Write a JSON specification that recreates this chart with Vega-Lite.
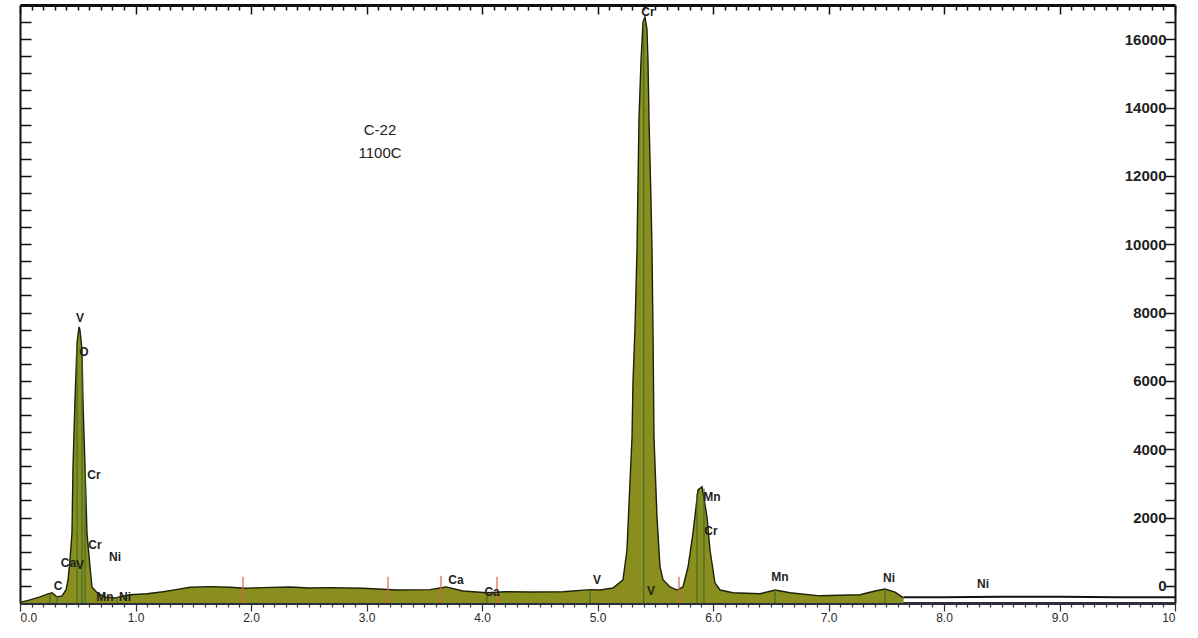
{
  "$schema": "https://vega.github.io/schema/vega-lite/v6.json",
  "width": 1155,
  "height": 598,
  "autosize": "none",
  "padding": {"left": 20, "top": 5, "right": 23, "bottom": 35},
  "background": "white",
  "config": {
    "view": {"stroke": null},
    "font": "Liberation Sans"
  },
  "datasets": {
    "spectrum": [
      {"energy": 0.000, "counts": -480},
      {"energy": 0.087, "counts": -410},
      {"energy": 0.173, "counts": -322},
      {"energy": 0.242, "counts": -234},
      {"energy": 0.277, "counts": -200},
      {"energy": 0.320, "counts": -320},
      {"energy": 0.364, "counts": -290},
      {"energy": 0.398, "counts": -120},
      {"energy": 0.416, "counts": 180},
      {"energy": 0.433, "counts": 760},
      {"energy": 0.450, "counts": 1550},
      {"energy": 0.459, "counts": 3480},
      {"energy": 0.476, "counts": 5440},
      {"energy": 0.494, "counts": 7110},
      {"energy": 0.511, "counts": 7580},
      {"energy": 0.519, "counts": 7490},
      {"energy": 0.537, "counts": 6910},
      {"energy": 0.545, "counts": 5440},
      {"energy": 0.563, "counts": 3480},
      {"energy": 0.580, "counts": 1550},
      {"energy": 0.606, "counts": 560},
      {"energy": 0.623, "counts": -30},
      {"energy": 0.667, "counts": -200},
      {"energy": 0.736, "counts": -320},
      {"energy": 0.823, "counts": -350},
      {"energy": 0.952, "counts": -260},
      {"energy": 1.100, "counts": -230},
      {"energy": 1.238, "counts": -170},
      {"energy": 1.350, "counts": -110},
      {"energy": 1.472, "counts": -40},
      {"energy": 1.650, "counts": -20},
      {"energy": 1.818, "counts": -40},
      {"energy": 1.950, "counts": -70},
      {"energy": 2.104, "counts": -50},
      {"energy": 2.338, "counts": -30},
      {"energy": 2.500, "counts": -60},
      {"energy": 2.684, "counts": -50},
      {"energy": 2.970, "counts": -70},
      {"energy": 3.264, "counts": -120},
      {"energy": 3.550, "counts": -110},
      {"energy": 3.688, "counts": -30},
      {"energy": 3.835, "counts": -150},
      {"energy": 4.043, "counts": -200},
      {"energy": 4.200, "counts": -170},
      {"energy": 4.416, "counts": -180},
      {"energy": 4.701, "counts": -170},
      {"energy": 4.935, "counts": -110},
      {"energy": 5.022, "counts": -120},
      {"energy": 5.134, "counts": -60},
      {"energy": 5.221, "counts": 180},
      {"energy": 5.255, "counts": 1050},
      {"energy": 5.281, "counts": 3010},
      {"energy": 5.299, "counts": 4360},
      {"energy": 5.307, "counts": 5940},
      {"energy": 5.325, "counts": 7580},
      {"energy": 5.342, "counts": 9830},
      {"energy": 5.359, "counts": 13640},
      {"energy": 5.377, "counts": 15400},
      {"energy": 5.394, "counts": 16500},
      {"energy": 5.411, "counts": 16650},
      {"energy": 5.428, "counts": 16300},
      {"energy": 5.437, "counts": 15400},
      {"energy": 5.446, "counts": 13640},
      {"energy": 5.463, "counts": 11300},
      {"energy": 5.472, "counts": 9830},
      {"energy": 5.481, "counts": 7290},
      {"energy": 5.489, "counts": 4360},
      {"energy": 5.515, "counts": 2020},
      {"energy": 5.541, "counts": 560},
      {"energy": 5.567, "counts": 180},
      {"energy": 5.628, "counts": -30},
      {"energy": 5.688, "counts": -120},
      {"energy": 5.740, "counts": -30},
      {"energy": 5.784, "counts": 560},
      {"energy": 5.827, "counts": 1550},
      {"energy": 5.870, "counts": 2810},
      {"energy": 5.905, "counts": 2900},
      {"energy": 5.948, "counts": 2020},
      {"energy": 5.974, "counts": 1050},
      {"energy": 6.017, "counts": 90},
      {"energy": 6.061, "counts": -120},
      {"energy": 6.173, "counts": -200},
      {"energy": 6.407, "counts": -230},
      {"energy": 6.537, "counts": -120},
      {"energy": 6.667, "counts": -200},
      {"energy": 6.926, "counts": -290},
      {"energy": 7.273, "counts": -260},
      {"energy": 7.403, "counts": -150},
      {"energy": 7.489, "counts": -90},
      {"energy": 7.576, "counts": -180},
      {"energy": 7.650, "counts": -350}
    ],
    "tail": [
      {"energy": 7.65, "counts": -330},
      {"energy": 8.0, "counts": -330},
      {"energy": 8.5, "counts": -320},
      {"energy": 9.0, "counts": -320},
      {"energy": 9.5, "counts": -330},
      {"energy": 10.0, "counts": -330}
    ],
    "markers": [
      {"energy": 0.26, "top": -220, "kind": "line"},
      {"energy": 0.32, "top": -310, "kind": "line"},
      {"energy": 0.494, "top": 7100, "kind": "line"},
      {"energy": 0.537, "top": 6900, "kind": "line"},
      {"energy": 0.563, "top": 3400, "kind": "line"},
      {"energy": 0.84, "top": -340, "kind": "line"},
      {"energy": 1.931, "top": 270, "kind": "artifact"},
      {"energy": 3.186, "top": 270, "kind": "artifact"},
      {"energy": 3.645, "top": 300, "kind": "artifact"},
      {"energy": 4.043, "top": -200, "kind": "line"},
      {"energy": 4.13, "top": 270, "kind": "artifact"},
      {"energy": 4.935, "top": -110, "kind": "line"},
      {"energy": 5.40, "top": 16500, "kind": "line"},
      {"energy": 5.706, "top": 270, "kind": "artifact"},
      {"energy": 5.861, "top": 2700, "kind": "line"},
      {"energy": 5.922, "top": 2850, "kind": "line"},
      {"energy": 6.537, "top": -120, "kind": "line"},
      {"energy": 7.489, "top": -90, "kind": "line"}
    ],
    "elements": [
      {"energy": 0.519, "counts": 7844, "label": "V"},
      {"energy": 0.554, "counts": 6849, "label": "O"},
      {"energy": 0.641, "counts": 3249, "label": "Cr"},
      {"energy": 0.649, "counts": 1200, "label": "Cr"},
      {"energy": 0.823, "counts": 849, "label": "Ni"},
      {"energy": 0.42, "counts": 670, "label": "Ca"},
      {"energy": 0.52, "counts": 610, "label": "V"},
      {"energy": 0.329, "counts": 0, "label": "C"},
      {"energy": 0.736, "counts": -322, "label": "Mn"},
      {"energy": 0.91, "counts": -322, "label": "Ni"},
      {"energy": 3.775, "counts": 176, "label": "Ca"},
      {"energy": 4.087, "counts": -176, "label": "Ca"},
      {"energy": 4.996, "counts": 176, "label": "V"},
      {"energy": 5.463, "counts": -146, "label": "V"},
      {"energy": 5.437, "counts": 16800, "label": "Cr"},
      {"energy": 5.991, "counts": 2605, "label": "Mn"},
      {"energy": 5.983, "counts": 1610, "label": "Cr"},
      {"energy": 6.580, "counts": 263, "label": "Mn"},
      {"energy": 7.524, "counts": 234, "label": "Ni"},
      {"energy": 8.338, "counts": 59, "label": "Ni"}
    ],
    "sample": [
      {"energy": 3.117, "counts": 13347, "label": "C-22"},
      {"energy": 3.117, "counts": 12674, "label": "1100C"}
    ]
  },
  "resolve": {"axis": {"x": "independent", "y": "independent"}},
  "layer": [
    {
      "data": {"name": "spectrum"},
      "mark": {"type": "area", "color": "#8a8e1e", "opacity": 1},
      "encoding": {
        "x": {
          "field": "energy", "type": "quantitative",
          "scale": {"domain": [0, 10], "nice": false, "zero": false},
          "axis": {
            "orient": "bottom", "title": null,
            "values": [0,0.1,0.2,0.3,0.4,0.5,0.6,0.7,0.8,0.9,1,1.1,1.2,1.3,1.4,1.5,1.6,1.7,1.8,1.9,2,2.1,2.2,2.3,2.4,2.5,2.6,2.7,2.8,2.9,3,3.1,3.2,3.3,3.4,3.5,3.6,3.7,3.8,3.9,4,4.1,4.2,4.3,4.4,4.5,4.6,4.7,4.8,4.9,5,5.1,5.2,5.3,5.4,5.5,5.6,5.7,5.8,5.9,6,6.1,6.2,6.3,6.4,6.5,6.6,6.7,6.8,6.9,7,7.1,7.2,7.3,7.4,7.5,7.6,7.7,7.8,7.9,8,8.1,8.2,8.3,8.4,8.5,8.6,8.7,8.8,8.9,9,9.1,9.2,9.3,9.4,9.5,9.6,9.7,9.8,9.9,10],
            "labelExpr": "datum.value == 10 ? '10' : (abs(datum.value - round(datum.value)) < 0.001 ? format(datum.value, '.1f') : '')",
            "labelFlush": true,
            "labelOverlap": false,
            "labelFont": "Liberation Sans",
            "labelFontSize": 12,
            "labelColor": "#2a2a2a",
            "labelPadding": 1,
            "domainColor": "#2b3038",
            "domainWidth": 3,
            "tickColor": "#2b3038",
            "tickWidth": 1.2,
            "tickSize": {"condition": {"test": "abs(datum.value - round(datum.value)) < 0.001", "value": 8}, "value": 4},
            "grid": false
          }
        },
        "y": {
          "field": "counts", "type": "quantitative",
          "scale": {"domain": [-500, 17000], "nice": false, "zero": false},
          "axis": {
            "orient": "right", "title": null,
            "values": [0,500,1000,1500,2000,2500,3000,3500,4000,4500,5000,5500,6000,6500,7000,7500,8000,8500,9000,9500,10000,10500,11000,11500,12000,12500,13000,13500,14000,14500,15000,15500,16000,16500],
            "labelExpr": "datum.value % 2000 == 0 ? format(datum.value, 'd') : ''",
            "labelOverlap": false,
            "labelFont": "Liberation Sans",
            "labelFontSize": 15,
            "labelFontWeight": "bold",
            "labelColor": "#1e1e1e",
            "labelAlign": "right",
            "labelBaseline": "middle",
            "tickSize": -10,
            "labelPadding": 1,
            "domainColor": "#111",
            "domainWidth": 2,
            "tickColor": "#111",
            "tickWidth": 1.5,
            "grid": false
          }
        },
        "y2": {"datum": -500}
      }
    },
    {
      "data": {"name": "spectrum"},
      "mark": {"type": "line", "color": "#1d2206", "strokeWidth": 1.4},
      "encoding": {
        "x": {"field": "energy", "type": "quantitative", "scale": {"domain": [0, 10], "nice": false, "zero": false}, "axis": null},
        "y": {"field": "counts", "type": "quantitative", "scale": {"domain": [-500, 17000], "nice": false, "zero": false}, "axis": null}
      }
    },
    {
      "data": {"name": "tail"},
      "mark": {"type": "line", "color": "#111", "strokeWidth": 2},
      "encoding": {
        "x": {"field": "energy", "type": "quantitative", "scale": {"domain": [0, 10], "nice": false, "zero": false}, "axis": null},
        "y": {"field": "counts", "type": "quantitative", "scale": {"domain": [-500, 17000], "nice": false, "zero": false}, "axis": null}
      }
    },
    {
      "data": {"name": "markers"},
      "mark": {"type": "rule", "strokeWidth": 1.2},
      "encoding": {
        "x": {
          "field": "energy", "type": "quantitative",
          "scale": {"domain": [0, 10], "nice": false, "zero": false},
          "axis": {
            "orient": "top", "title": null, "labels": false,
            "values": [0,0.1,0.2,0.3,0.4,0.5,0.6,0.7,0.8,0.9,1,1.1,1.2,1.3,1.4,1.5,1.6,1.7,1.8,1.9,2,2.1,2.2,2.3,2.4,2.5,2.6,2.7,2.8,2.9,3,3.1,3.2,3.3,3.4,3.5,3.6,3.7,3.8,3.9,4,4.1,4.2,4.3,4.4,4.5,4.6,4.7,4.8,4.9,5,5.1,5.2,5.3,5.4,5.5,5.6,5.7,5.8,5.9,6,6.1,6.2,6.3,6.4,6.5,6.6,6.7,6.8,6.9,7,7.1,7.2,7.3,7.4,7.5,7.6,7.7,7.8,7.9,8,8.1,8.2,8.3,8.4,8.5,8.6,8.7,8.8,8.9,9,9.1,9.2,9.3,9.4,9.5,9.6,9.7,9.8,9.9,10],
            "tickSize": {"condition": {"test": "abs(datum.value - round(datum.value)) < 0.001", "value": -9}, "value": -5},
            "domainColor": "#111",
            "domainWidth": 3,
            "tickColor": "#111",
            "tickWidth": 1.5,
            "grid": false
          }
        },
        "y": {
          "field": "top", "type": "quantitative",
          "scale": {"domain": [-500, 17000], "nice": false, "zero": false},
          "axis": {
            "orient": "left", "title": null, "labels": false,
            "values": [0,500,1000,1500,2000,2500,3000,3500,4000,4500,5000,5500,6000,6500,7000,7500,8000,8500,9000,9500,10000,10500,11000,11500,12000,12500,13000,13500,14000,14500,15000,15500,16000,16500],
            "tickSize": -11,
            "domainColor": "#111",
            "domainWidth": 2,
            "tickColor": "#111",
            "tickWidth": 1.5,
            "grid": false
          }
        },
        "y2": {"datum": -500},
        "color": {
          "field": "kind", "type": "nominal",
          "scale": {"domain": ["line", "artifact"], "range": ["#3f6e2e", "#d9634a"]},
          "legend": null
        }
      }
    },
    {
      "data": {"name": "elements"},
      "mark": {"type": "text", "font": "Liberation Sans", "fontSize": 12, "fontWeight": "bold", "color": "#1f1f1f", "align": "center", "baseline": "middle"},
      "encoding": {
        "x": {"field": "energy", "type": "quantitative", "scale": {"domain": [0, 10], "nice": false, "zero": false}, "axis": null},
        "y": {"field": "counts", "type": "quantitative", "scale": {"domain": [-500, 17000], "nice": false, "zero": false}, "axis": null},
        "text": {"field": "label"}
      }
    },
    {
      "data": {"name": "sample"},
      "mark": {"type": "text", "font": "Liberation Sans", "fontSize": 15, "color": "#222", "align": "center", "baseline": "middle"},
      "encoding": {
        "x": {"field": "energy", "type": "quantitative", "scale": {"domain": [0, 10], "nice": false, "zero": false}, "axis": null},
        "y": {"field": "counts", "type": "quantitative", "scale": {"domain": [-500, 17000], "nice": false, "zero": false}, "axis": null},
        "text": {"field": "label"}
      }
    }
  ]
}
